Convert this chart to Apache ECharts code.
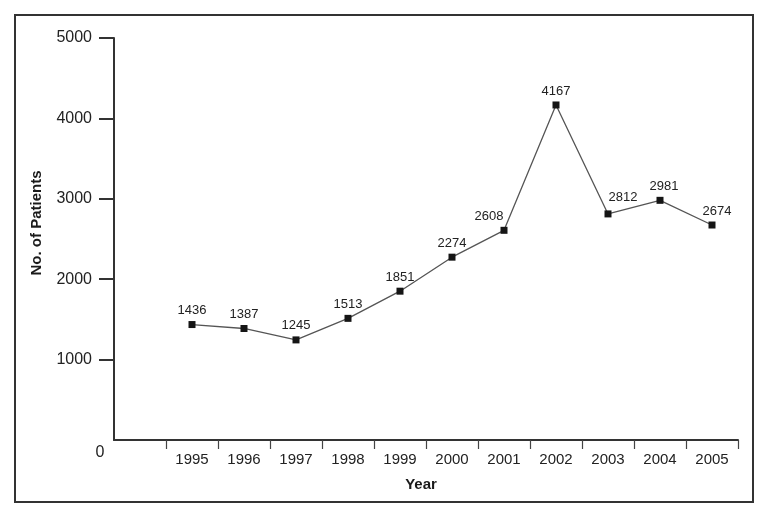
<!DOCTYPE html>
<html>
<head>
<meta charset="utf-8">
<style>
  html, body { margin: 0; padding: 0; background: #fff; }
  #chart { width: 770px; height: 518px; }
</style>
<script src="https://cdn.jsdelivr.net/npm/echarts@6/dist/echarts.min.js"></script>
</head>
<body>
<div id="chart"></div>
<script>
const categories = ['', '1995', '1996', '1997', '1998', '1999', '2000', '2001', '2002', '2003', '2004', '2005'];
const patients = [null, 1436, 1387, 1245, 1513, 1851, 2274, 2608, 4167, 2812, 2981, 2674];
const yTicks = [1000, 2000, 3000, 4000, 5000];

// label nudges (style only), keyed by category index
const labelNudge = { 7: [-15, 0], 9: [15, -2], 10: [4, 0], 11: [5, 0] };

const FONT = '"Liberation Sans", Arial, sans-serif';
const chart = echarts.init(document.getElementById('chart'), null, { renderer: 'canvas' });

const seriesData = patients.map(function (v, i) {
  const item = { value: v };
  if (labelNudge[i]) item.label = { offset: labelNudge[i] };
  return item;
});

chart.setOption({
  animation: false,
  backgroundColor: '#ffffff',
  grid: { left: 114, right: 32, top: 38, bottom: 78, containLabel: false },
  xAxis: {
    type: 'category',
    data: categories,
    boundaryGap: true,
    name: 'Year',
    nameLocation: 'middle',
    nameGap: 37,
    nameTextStyle: { fontFamily: FONT, fontSize: 15, fontWeight: 'bold', color: '#1a1a1a', padding: [0, 10, 0, 0] },
    axisLine: { lineStyle: { color: '#333', width: 2 } },
    axisTick: {
      show: true,
      inside: false,
      length: 9,
      interval: function (index) { return index !== 0; },
      lineStyle: { color: '#444', width: 1.2 }
    },
    axisLabel: {
      fontFamily: FONT, fontSize: 15, color: '#222', margin: 12,
      interval: 0
    },
    splitLine: { show: false }
  },
  yAxis: {
    type: 'value',
    min: 0,
    max: 5000,
    interval: 1000,
    axisLine: { show: true, lineStyle: { color: '#333', width: 2 } },
    axisTick: {
      show: true, inside: false, length: 15,
      customValues: yTicks,
      lineStyle: { color: '#333', width: 2 }
    },
    axisLabel: {
      fontFamily: FONT, fontSize: 16, color: '#222', margin: 22,
      customValues: yTicks,
      formatter: function (v) { return String(v); }
    },
    splitLine: { show: false }
  },
  graphic: [
    {
      type: 'rect',
      shape: { x: 15, y: 15, width: 738, height: 487 },
      style: { fill: 'none', stroke: '#333', lineWidth: 2 },
      silent: true
    },
    {
      type: 'text',
      x: 100, y: 453,
      style: { text: '0', fontFamily: FONT, fontSize: 16, fill: '#222', textAlign: 'center', textVerticalAlign: 'middle' }
    },
    {
      type: 'text',
      x: 37, y: 223,
      rotation: Math.PI / 2,
      style: { text: 'No. of Patients', fontFamily: FONT, fontSize: 15, fontWeight: 'bold', fill: '#1a1a1a', textAlign: 'center', textVerticalAlign: 'middle' }
    }
  ],
  series: [{
    type: 'line',
    data: seriesData,
    connectNulls: false,
    symbol: 'rect',
    symbolSize: 7,
    itemStyle: { color: '#151515' },
    lineStyle: { color: '#555', width: 1.3 },
    label: {
      show: true, position: 'top', distance: 4,
      fontFamily: FONT, fontSize: 13, color: '#222'
    }
  }]
});
</script>
</body>
</html>
